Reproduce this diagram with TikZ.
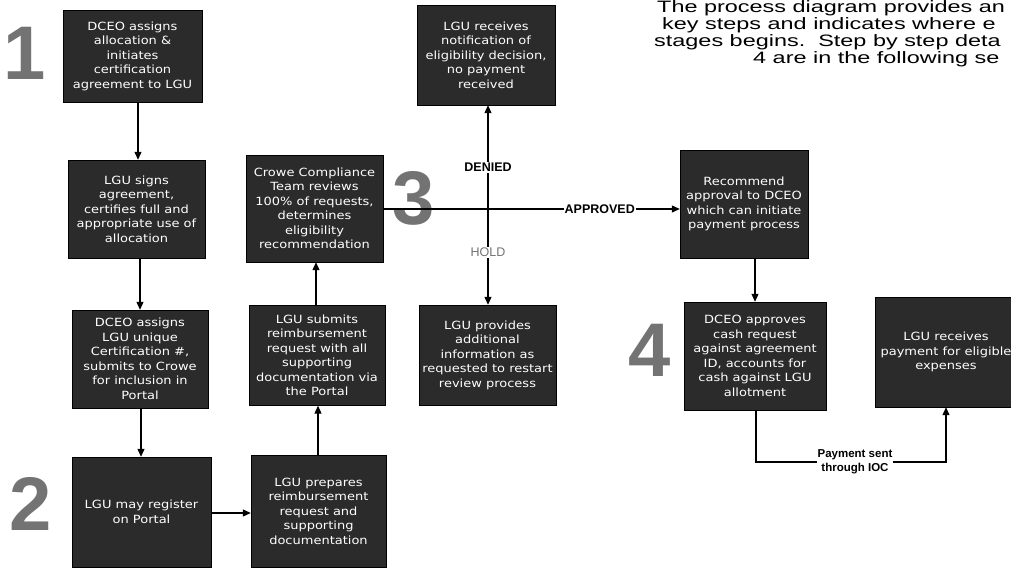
\documentclass[tikz,border=0pt]{standalone}
\usepackage{fontspec}
\setmainfont[FakeStretch=1.15]{DejaVu Sans}
\newfontfamily\arialf{Liberation Sans}
\newfontfamily\topf[FakeStretch=1.42]{Liberation Sans}
\usetikzlibrary{arrows.meta}
\begin{document}
\begin{tikzpicture}[x=1pt,y=-1pt,
 proc/.style={draw=black, fill=black!83, text=white, align=center, font=\fontsize{11.3}{14.5}\selectfont, inner sep=0pt},
 conn/.style={line width=1.1pt, -{Triangle[length=8pt,width=7pt]}},
 bignum/.style={font=\arialf\bfseries\fontsize{76}{76}\selectfont, text=black!55, inner sep=0pt},
 lbl/.style={font=\arialf\bfseries\fontsize{12.5}{13}\selectfont, fill=white, inner sep=1pt, align=center},
 toptext/.style={anchor=base west, font=\topf\fontsize{16.5}{16.5}\selectfont, inner sep=0pt}]
\useasboundingbox (0,0) rectangle (1011,569);

% big step numbers
\node[bignum] (n1) at (25,53) {1};
\node[bignum] (n2) at (31,504) {2};
\node[bignum] (n3) at (414,198) {3};
\node[bignum] (n4) at (650,350) {4};

% boxes
\node[proc, minimum width=139, minimum height=92] (b1) at (132.5,56)
 {DCEO assigns\\allocation \&\\initiates\\certification\\agreement to LGU};
\node[proc, minimum width=137, minimum height=98] (b2) at (136.5,209)
 {LGU signs\\agreement,\\certifies full and\\appropriate use of\\allocation};
\node[proc, minimum width=136, minimum height=98] (b3) at (140,359)
 {DCEO assigns\\LGU unique\\Certification \#,\\submits to Crowe\\for inclusion in\\Portal};
\node[proc, minimum width=139, minimum height=110] (b4) at (141.5,512)
 {LGU may register\\on Portal};
\node[proc, minimum width=135, minimum height=112] (b5) at (318.5,511)
 {LGU prepares\\reimbursement\\request and\\supporting\\documentation};
\node[proc, minimum width=136, minimum height=100] (b6) at (317,355.5)
 {LGU submits\\reimbursement\\request with all\\supporting\\documentation via\\the Portal};
\node[proc, minimum width=137, minimum height=107] (b7) at (314.5,208.5)
 {Crowe Compliance\\Team reviews\\100\% of requests,\\determines\\eligibility\\recommendation};
\node[proc, minimum width=138, minimum height=100] (b8) at (486,55)
 {LGU receives\\notification of\\eligibility decision,\\no payment\\received};
\node[proc, minimum width=137, minimum height=100] (b9) at (487.5,355)
 {LGU provides\\additional\\information as\\requested to restart\\review process};
\node[proc, minimum width=128, minimum height=108] (b10) at (744,204)
 {Recommend\\approval to DCEO\\which can initiate\\payment process};
\node[proc, minimum width=142, minimum height=108] (b11) at (755,356)
 {DCEO approves\\cash request\\against agreement\\ID, accounts for\\cash against LGU\\allotment};
\node[proc, minimum width=142, minimum height=110] (b12) at (946,352)
 {LGU receives\\payment for eligible\\expenses};

% connectors
\coordinate (c1) at (138,0);
\draw[conn] (b1.south -| c1) -- (b2.north -| c1);
\coordinate (c2) at (140,0);
\draw[conn] (b2.south -| c2) -- (b3.north -| c2);
\coordinate (c3) at (141,0);
\draw[conn] (b3.south -| c3) -- (b4.north -| c3);
\coordinate (c4) at (0,513);
\draw[conn] (b4.east |- c4) -- (b5.west |- c4);
\coordinate (c5) at (318,0);
\draw[conn] (b5.north -| c5) -- (b6.south -| c5);
\coordinate (c6) at (316,0);
\draw[conn] (b6.north -| c6) -- (b7.south -| c6);
\coordinate (c7) at (0,209);
\draw[conn] (b7.east |- c7) -- (b10.west |- c7)
  node[lbl, pos=0.73] (ap) {APPROVED};
\coordinate (j) at (488,209);
\draw[conn] (j) -- (j |- b8.south) node[lbl, pos=0.40] (dn) {DENIED};
\draw[conn] (j) -- (j |- b9.north) node[pos=0.45, fill=white, inner sep=1pt, font=\arialf\fontsize{12.5}{13}\selectfont, text=black!55] (hd) {HOLD};
\coordinate (c8) at (755,0);
\draw[conn] (b10.south -| c8) -- (b11.north -| c8);
\coordinate (p1) at (756,462);
\coordinate (p2) at (946,462);
\draw[conn] (b11.south -| p1) -- (p1) -- (p2) -- (p2 |- b12.south);
\node[lbl, font=\arialf\bfseries\fontsize{11.5}{14}\selectfont] (pay) at (855,462) {Payment sent\\through IOC};

% top text
\node[toptext] (t1) at (657,13) {The process diagram provides an};
\node[toptext] (t2) at (662,30) {key steps and indicates where e};
\node[toptext] (t3) at (654,47) {stages begins.\ \ Step by step deta};
\node[toptext] (t4) at (753,64) {4 are in the following se};
\end{tikzpicture}
\end{document}
